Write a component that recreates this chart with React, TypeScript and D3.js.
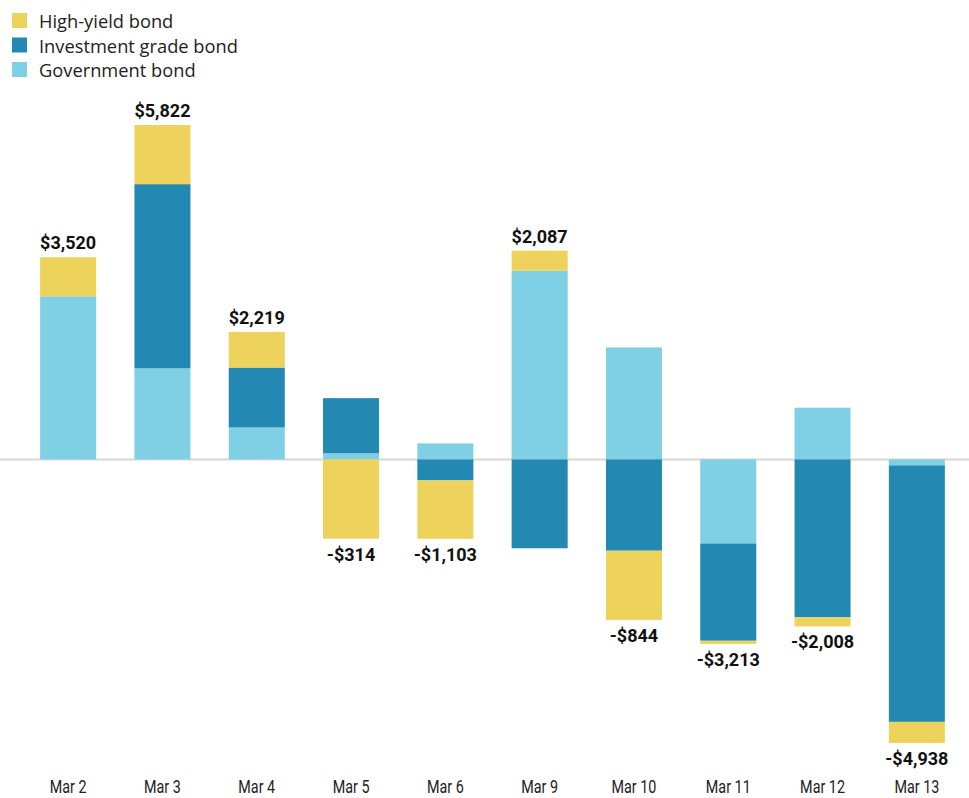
import React from "react";
import * as d3 from "d3";

const width = 969;
const height = 798;
const margin = { top: 125, right: 5, bottom: 55, left: 21 };

const days = ["Mar 2", "Mar 3", "Mar 4", "Mar 5", "Mar 6", "Mar 9", "Mar 10", "Mar 11", "Mar 12", "Mar 13"];
const government = [2840, 1586, 556, 106, 279, 3285, 1950, -1464, 900, -105];
const investmentGrade = [0, 3206, 1043, 960, -366, -1548, -1590, -1694, -2750, -4465];
const highYield = [680, 1030, 620, -1380, -1016, 350, -1204, -55, -158, -368];
const totals = [3520, 5822, 2219, -314, -1103, 2087, -844, -3213, -2008, -4938];

const seriesNames = ["Government bond", "Investment grade bond", "High-yield bond"];
const colors = ["#7fd0e4", "#2388b2", "#edd25b"];
const legendOrder = [2, 1, 0];

const rows = days.map((d, i) => ({
  day: d,
  gov: government[i],
  ig: investmentGrade[i],
  hy: highYield[i],
}));

const keys = ["gov", "ig", "hy"];

export default function App() {
  const stack = d3.stack<any>().keys(keys).offset(d3.stackOffsetDiverging);
  const layers = stack(rows);

  const minV = d3.min(layers, (l) => d3.min(l, (d) => d[0])) as number;
  const maxV = d3.max(layers, (l) => d3.max(l, (d) => d[1])) as number;

  const x = d3
    .scaleBand()
    .domain(days)
    .range([margin.left, width - margin.right])
    .paddingInner(0.406)
    .paddingOuter(0.203);
  const y = d3
    .scaleLinear()
    .domain([minV, maxV])
    .range([743, margin.top]);

  const fontFamily = "Roboto, 'Noto Sans', sans-serif";

  return (
    <div style={{ position: "absolute", left: 0, top: 0 }}>
      <svg width={width} height={height} style={{ display: "block", background: "#fff" }}>
        {/* legend */}
        <g>
          {legendOrder.map((s, i) => (
            <g key={s} transform={`translate(12, ${13 + i * 24.5})`}>
              <rect width={15} height={15} fill={colors[s]} />
              <text x={27} y={15} fontSize={18.3} fill="#222" fontFamily="'Open Sans', sans-serif">
                {seriesNames[s]}
              </text>
            </g>
          ))}
        </g>

        {/* zero line */}
        <line x1={0} x2={width} y1={y(0)} y2={y(0)} stroke="#d6d6d6" strokeWidth={2} />

        {/* bars */}
        {layers.map((layer, li) => (
          <g key={layer.key} fill={colors[li]}>
            {layer.map((d, i) => {
              const y0 = y(d[0]);
              const y1 = y(d[1]);
              return (
                <rect
                  key={i}
                  x={x(days[i])}
                  width={x.bandwidth()}
                  y={Math.min(y0, y1)}
                  height={Math.abs(y0 - y1)}
                />
              );
            })}
          </g>
        ))}

        {/* total labels */}
        {totals.map((t, i) => {
          const top = d3.max(layers, (l) => l[i][1]) as number;
          const bottom = d3.min(layers, (l) => l[i][0]) as number;
          const cx = (x(days[i]) as number) + x.bandwidth() / 2;
          const label = (t < 0 ? "-" : "") + "$" + d3.format(",")(Math.abs(t));
          return (
            <text
              key={i}
              x={cx}
              y={t >= 0 ? y(top) - 8 : y(bottom) + 22}
              textAnchor="middle"
              fontSize={18}
              fontWeight="bold"
              fill="#111"
              fontFamily={fontFamily}
            >
              {label}
            </text>
          );
        })}

        {/* x axis labels, slightly condensed */}
        {days.map((d) => {
          const cx = (x(d) as number) + x.bandwidth() / 2;
          return (
            <text
              key={d}
              transform={`translate(${cx}, 793) scale(0.82, 1)`}
              textAnchor="middle"
              fontSize={17.5}
              fill="#222"
              fontFamily={fontFamily}
            >
              {d}
            </text>
          );
        })}
      </svg>
    </div>
  );
}
